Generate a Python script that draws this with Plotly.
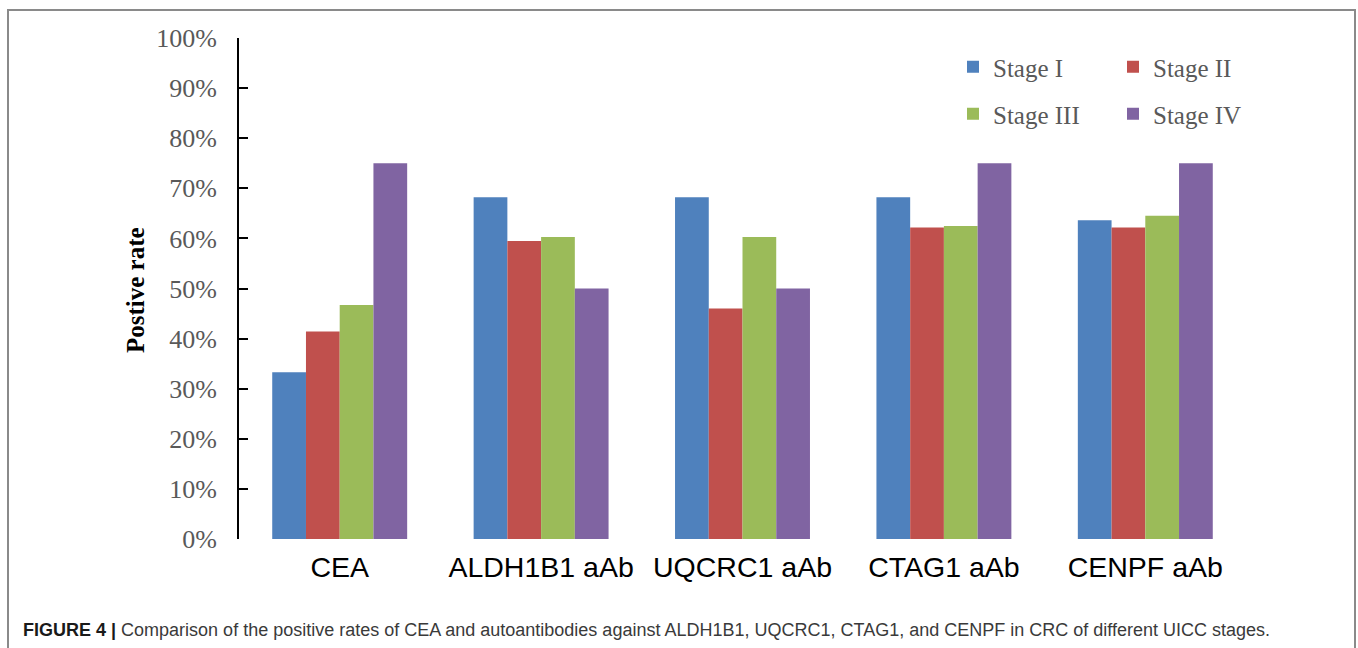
import plotly.graph_objects as go

# Marker categories and UICC stages
categories = ["CEA", "ALDH1B1 aAb", "UQCRC1 aAb", "CTAG1 aAb", "CENPF aAb"]
stage_names = ["Stage I", "Stage II", "Stage III", "Stage IV"]

# Positive rates (fraction) per stage, one list per stage across the markers
stage1 = [0.333, 0.682, 0.682, 0.682, 0.636]
stage2 = [0.414, 0.595, 0.460, 0.622, 0.622]
stage3 = [0.467, 0.603, 0.603, 0.625, 0.645]
stage4 = [0.750, 0.500, 0.500, 0.750, 0.750]

y_ticks = [0, 0.1, 0.2, 0.3, 0.4, 0.5, 0.6, 0.7, 0.8, 0.9, 1.0]
y_tick_text = ["0%", "10%", "20%", "30%", "40%", "50%", "60%", "70%", "80%", "90%", "100%"]

caption_bold = "FIGURE 4 |"
caption_text = ("Comparison of the positive rates of CEA and autoantibodies against "
                "ALDH1B1, UQCRC1, CTAG1, and CENPF in CRC of different UICC stages.")

colors = ["#4F81BD", "#C0504D", "#9BBB59", "#8064A2"]
series = [stage1, stage2, stage3, stage4]
legend_ids = ["legend", "legend", "legend2", "legend2"]

W, H = 1358, 648
ML, MR, MT, MB = 239, 112, 38, 109
PL, PR, PT, PB = ML, W - MR, MT, H - MB


def px_x(x):
    return (x - PL) / (PR - PL)


def px_y(y):
    return (PB - y) / (PB - PT)


serif = "Liberation Serif, Times New Roman, serif"
sans = "Liberation Sans, Arial, sans-serif"
grey_text = "#595959"

fig = go.Figure()
for name, vals, col, lg in zip(stage_names, series, colors, legend_ids):
    fig.add_trace(go.Bar(
        x=categories, y=vals, name=name, legend=lg,
        marker=dict(color=col, line=dict(width=0)),
    ))

legend_style = dict(
    orientation="h", xanchor="left", yanchor="middle",
    font=dict(family=serif, size=25, color=grey_text),
    entrywidth=115, entrywidthmode="pixels", bgcolor="rgba(0,0,0,0)",
    traceorder="normal",
)

fig.update_layout(
    width=W, height=H,
    margin=dict(l=ML, r=MR, t=MT, b=MB),
    paper_bgcolor="white", plot_bgcolor="white",
    barmode="group", bargap=0.33, bargroupgap=0,
    showlegend=True,
    legend=dict(x=px_x(953), y=px_y(67), **legend_style),
    legend2=dict(x=px_x(953), y=px_y(114), **legend_style),
    xaxis=dict(
        showline=False, showgrid=False, zeroline=False, ticks="",
        tickfont=dict(family=sans, size=28.5, color="#000000"),
        ticklabelstandoff=8,
    ),
    yaxis=dict(
        range=[0, 1.0], showgrid=False, zeroline=False,
        showline=True, linecolor="#000000", linewidth=2,
        ticks="inside", ticklen=9, tickwidth=2, tickcolor="#000000",
        tickvals=y_ticks, ticktext=y_tick_text,
        tickfont=dict(family=serif, size=26, color=grey_text),
        ticklabelstandoff=15,
    ),
    annotations=[
        dict(text="<b>Postive rate</b>", textangle=-90, xref="paper", yref="paper",
             x=px_x(135), y=px_y(290), xanchor="center", yanchor="middle",
             showarrow=False, font=dict(family=serif, size=25, color="#000000")),
        dict(text=f"<b>{caption_bold}</b> <span style='color:#3a3a3a'>{caption_text}</span>",
             xref="paper", yref="paper", x=px_x(21), y=px_y(630),
             xanchor="left", yanchor="middle", showarrow=False,
             font=dict(family=sans, size=18, color="#1a1a1a")),
    ],
    shapes=[
        dict(type="rect", xref="paper", yref="paper",
             x0=px_x(8), x1=px_x(1355), y0=px_y(670), y1=px_y(10),
             line=dict(color="#8a8a8a", width=2), fillcolor="rgba(0,0,0,0)", layer="below"),
    ],
)

fig.write_html("out.html")
